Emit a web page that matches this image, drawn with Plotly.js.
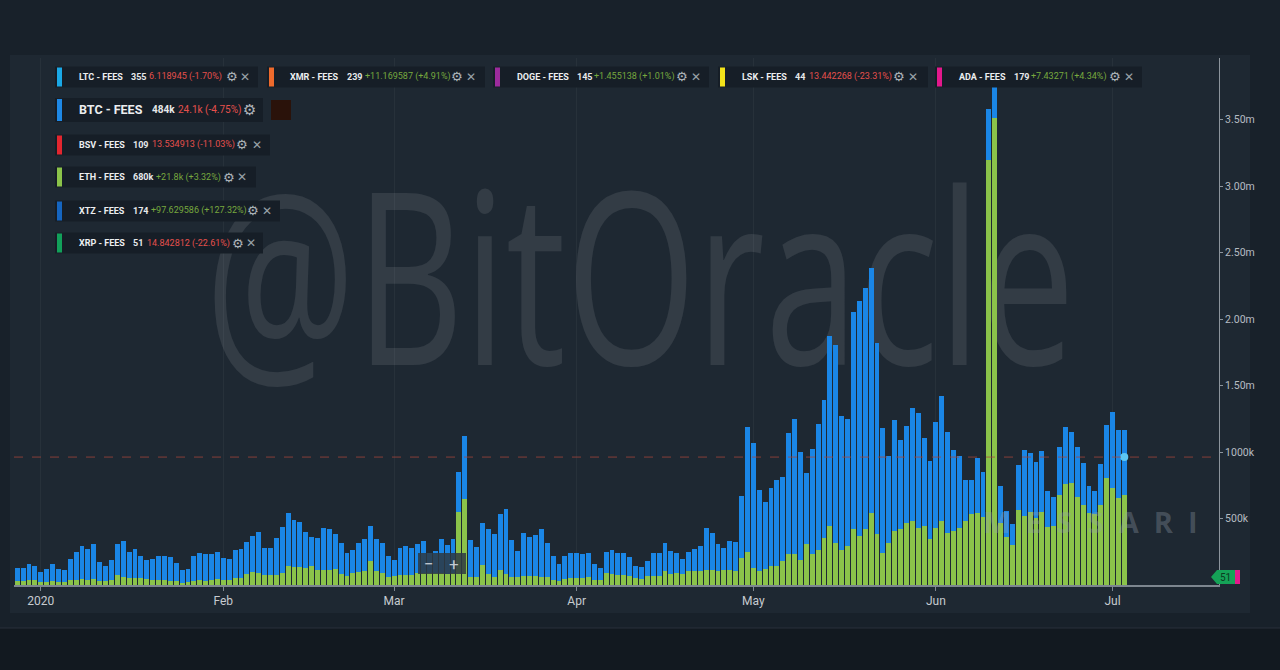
<!DOCTYPE html>
<html>
<head>
<meta charset="utf-8">
<script src="https://cdn.plot.ly/plotly-3.0.1.min.js"></script>
<style>
  html, body { margin: 0; padding: 0; background: #18212a; }
  #chart { width: 1280px; height: 670px; }
</style>
</head>
<body>
<div id="chart"></div>
<script>
// ---------------- DATA (daily fees, thousands of USD) ----------------
const startDate = '2019-12-28';

const ethFees = [
  30,30,38,38,25,25,30,25,25,35,
  38,45,40,45,30,30,38,75,63,50,
  55,55,45,38,35,38,30,30,18,25,
  30,35,30,40,45,38,38,55,55,80,
  95,93,75,75,75,88,140,133,135,125,
  143,113,113,113,120,83,70,88,95,108,
  180,108,93,63,68,75,75,75,88,88,
  88,88,88,83,93,546,644,63,58,150,
  83,63,113,83,63,58,68,68,68,63,
  58,38,33,43,50,55,55,58,38,38,
  93,83,75,73,70,50,45,68,70,68,
  108,83,93,83,105,108,108,113,113,105,
  113,113,108,200,246,125,108,118,143,143,
  180,233,231,188,306,231,263,356,444,318,
  263,293,418,368,418,544,383,243,313,406,
  418,469,481,426,444,346,431,484,388,408,
  426,481,531,544,514,3195,3513,466,363,301,
  564,521,546,506,551,434,444,677,757,764,
  664,601,539,531,601,802,727,658,680
];

const btcFees = [
  95,95,117,107,70,93,125,93,85,160,
  212,248,233,261,145,115,150,233,268,200,
  218,161,143,160,183,180,180,138,92,93,
  188,203,201,193,205,168,160,206,218,241,
  276,308,206,206,276,346,401,353,341,276,
  220,243,318,308,263,235,168,175,223,238,
  264,238,220,155,120,206,221,206,218,243,
  150,170,258,218,253,301,479,275,230,314,
  335,320,421,488,275,200,325,295,308,358,
  255,180,125,175,188,183,178,180,117,92,
  158,180,163,170,143,93,93,112,168,170,
  205,175,145,112,146,163,185,313,275,203,
  168,220,213,469,944,945,606,509,589,646,
  634,907,1014,809,539,791,947,1035,1428,1486,
  1008,952,1637,1767,1812,1842,1434,940,659,834,
  672,726,847,870,659,589,792,937,765,607,
  544,308,258,408,333,381,233,282,196,156,
  338,494,444,421,456,275,220,363,433,389,
  376,314,205,178,306,401,576,508,484
];

const refLevel = 962;          // dashed reference level (thousands)
const xrpLast = '51';

const monthTicks = ['2020-01-01','2020-02-01','2020-03-01','2020-04-01','2020-05-01','2020-06-01','2020-07-01'];
const monthLabels = ['2020','Feb','Mar','Apr','May','Jun','Jul'];
const yTickVals = [500,1000,1500,2000,2500,3000,3500];
const yTickText = ['500k','1000k','1.50m','2.00m','2.50m','3.00m','3.50m'];

const chipNames  = ['LTC - FEES','XMR - FEES','DOGE - FEES','LSK - FEES','ADA - FEES','BTC - FEES','BSV - FEES','ETH - FEES','XTZ - FEES','XRP - FEES'];
const chipLast   = ['355','239','145','44','179','484k','109','680k','174','51'];
const chipChange = ['6.118945 (-1.70%)','+11.169587 (+4.91%)','+1.455138 (+1.01%)','13.442268 (-23.31%)','+7.43271 (+4.34%)','24.1k (-4.75%)','13.534913 (-11.03%)','+21.8k (+3.32%)','+97.629586 (+127.32%)','14.842812 (-22.61%)'];
const chipUp     = [false,true,true,false,true,false,false,true,true,false];

// ---------------- STYLE / LAYOUT ----------------
const chipColors = ['#1aa8e6','#ee6a2c','#9c2b9c','#f2e21a','#e3188c','#1e88e5','#e3262f','#8bc34a','#1565c0','#12a05a'];
const chipPos = [
  {x0:55, x1:258, y:77, name:78, val:130, chg:148, gear:232, close:245},
  {x0:267,x1:485, y:77, name:289,val:346, chg:364, gear:457, close:471},
  {x0:493,x1:709, y:77, name:516,val:576, chg:593, gear:682, close:696},
  {x0:718,x1:928, y:77, name:741,val:794, chg:808, gear:899, close:913},
  {x0:935,x1:1142,y:77, name:958,val:1013,chg:1030,gear:1115,close:1129},
  {x0:55, x1:263, y:110,name:78, val:151, chg:177, gear:249, close:null, big:true},
  {x0:55, x1:270, y:145,name:78, val:132, chg:151, gear:242, close:257},
  {x0:55, x1:256, y:177,name:78, val:132, chg:155, gear:229, close:242},
  {x0:55, x1:280, y:211,name:78, val:132, chg:150, gear:253, close:267},
  {x0:55, x1:263, y:243,name:78, val:132, chg:146, gear:238, close:251}
];

const W = 1280, H = 670;
const PL = 14, PR = 1219, PT = 58, PB = 585;
const ax = p => (p - PL) / (PR - PL);
const ay = p => (PB - p) / (PB - PT);

const dates = [];
{
  const d0 = new Date(startDate + 'T00:00:00Z');
  for (let i = 0; i < ethFees.length; i++) {
    const d = new Date(d0.getTime() + i * 86400000);
    dates.push(d.toISOString().slice(0, 10));
  }
}
const K = 1000;

const traces = [
  { type:'bar', name:'ETH - FEES', x:dates, y:ethFees.map(v => v*K),
    marker:{color:'#8bc34a', line:{width:0}}, hoverinfo:'x+y' },
  { type:'bar', name:'BTC - FEES', x:dates, y:btcFees.map(v => v*K),
    marker:{color:'#1a86e6', line:{width:0}}, hoverinfo:'x+y' },
  { type:'scatter', mode:'markers', x:[dates[dates.length-1]], y:[refLevel*K],
    marker:{color:'#5cc6f2', size:8}, hoverinfo:'skip' }
];

const FONT = 'Roboto, "Open Sans", sans-serif';
const shapes = [];
const annotations = [];

// panel backgrounds
shapes.push({type:'rect', xref:'paper', yref:'paper', x0:ax(10), x1:ax(1250), y0:ay(613), y1:ay(55),
  fillcolor:'#1e2832', line:{width:0}, layer:'below'});
shapes.push({type:'rect', xref:'paper', yref:'paper', x0:ax(0), x1:ax(1280), y0:ay(670), y1:ay(628),
  fillcolor:'#121920', line:{width:0}, layer:'below'});
shapes.push({type:'line', xref:'paper', yref:'paper', x0:ax(0), x1:ax(1280), y0:ay(628), y1:ay(628),
  line:{color:'#28313a', width:1}, layer:'below'});

// watermark
shapes.push({type:'rect', xref:'paper', yref:'paper', x0:ax(0), x1:ax(1280), y0:ay(420), y1:ay(140),
  fillcolor:'rgba(0,0,0,0)', line:{width:0}, layer:'below',
  label:{text:'@BitOracle', textposition:'middle center',
         font:{family:'"Open Sans", sans-serif', size:240, color:'rgba(255,255,255,0.095)'}}});

// dashed reference line
shapes.push({type:'line', xref:'paper', yref:'y', x0:0, x1:1, y0:refLevel*K, y1:refLevel*K,
  line:{color:'rgba(170,70,60,0.75)', width:1, dash:'dash'}, layer:'above'});

// legend chips
chipPos.forEach((c, i) => {
  const h = c.big ? 12 : 10.5;
  shapes.push({type:'rect', xref:'paper', yref:'paper', x0:ax(c.x0), x1:ax(c.x1), y0:ay(c.y+h), y1:ay(c.y-h),
    fillcolor:'#161e27', line:{width:0}, layer:'above'});
  shapes.push({type:'rect', xref:'paper', yref:'paper', x0:ax(c.x0+2), x1:ax(c.x0+7), y0:ay(c.y+h-1), y1:ay(c.y-h+1),
    fillcolor:chipColors[i], line:{width:0}, layer:'above'});
  const nameSize = c.big ? 12.5 : 9;
  const valSize = c.big ? 10 : 9;
  annotations.push({xref:'paper', yref:'paper', x:ax(c.name), y:ay(c.y), xanchor:'left', yanchor:'middle',
    text:'<b>' + chipNames[i] + '</b>', showarrow:false, borderpad:0,
    font:{family:FONT, size:nameSize, color:'#eceef0'}});
  annotations.push({xref:'paper', yref:'paper', x:ax(c.val), y:ay(c.y), xanchor:'left', yanchor:'middle',
    text:'<b>' + chipLast[i] + '</b>', showarrow:false, borderpad:0,
    font:{family:FONT, size:valSize, color:'#e6e8ea'}});
  annotations.push({xref:'paper', yref:'paper', x:ax(c.chg), y:ay(c.y), xanchor:'left', yanchor:'middle',
    text:chipChange[i], showarrow:false, borderpad:0,
    font:{family:FONT, size:valSize, color: chipUp[i] ? '#76a83e' : '#e5504c'}});
  annotations.push({xref:'paper', yref:'paper', x:ax(c.gear), y:ay(c.y), xanchor:'center', yanchor:'middle',
    text:'⚙', showarrow:false, borderpad:0,
    font:{family:'"DejaVu Sans", sans-serif', size:c.big ? 15 : 13, color:'#aeb4ba'}});
  if (c.close !== null) {
    annotations.push({xref:'paper', yref:'paper', x:ax(c.close), y:ay(c.y), xanchor:'center', yanchor:'middle',
      text:'✕', showarrow:false, borderpad:0,
      font:{family:'"DejaVu Sans", sans-serif', size:12, color:'#9aa2aa'}});
  }
});
// dark square next to BTC chip
shapes.push({type:'rect', xref:'paper', yref:'paper', x0:ax(271), x1:ax(291), y0:ay(120), y1:ay(100),
  fillcolor:'#2a120a', line:{width:0}, layer:'above'});

// zoom control
shapes.push({type:'rect', xref:'paper', yref:'paper', x0:ax(418), x1:ax(466), y0:ay(574), y1:ay(553),
  fillcolor:'rgba(46,56,66,0.85)', line:{width:0}, layer:'above'});
annotations.push({xref:'paper', yref:'paper', x:ax(429), y:ay(563.5), xanchor:'center', yanchor:'middle',
  text:'−', showarrow:false, font:{family:FONT, size:17, color:'#c2c9d0'}});
annotations.push({xref:'paper', yref:'paper', x:ax(454), y:ay(563.5), xanchor:'center', yanchor:'middle',
  text:'+', showarrow:false, font:{family:FONT, size:17, color:'#c2c9d0'}});

// Messari watermark
annotations.push({xref:'paper', yref:'paper', x:ax(1200), y:ay(521), xanchor:'right', yanchor:'middle',
  text:'<b>M\u00a0\u00a0E\u00a0\u00a0S\u00a0\u00a0S\u00a0\u00a0A\u00a0\u00a0R\u00a0\u00a0I</b>', showarrow:false,
  font:{family:'"Open Sans", sans-serif', size:29, color:'rgba(150,160,172,0.32)'}});

// last value tag on the axis
shapes.push({type:'path', xref:'paper', yref:'paper',
  path:`M ${ax(1211)} ${ay(577)} L ${ax(1217)} ${ay(570)} L ${ax(1235)} ${ay(570)} L ${ax(1235)} ${ay(584)} L ${ax(1217)} ${ay(584)} Z`,
  fillcolor:'#15a257', line:{width:0}, layer:'above'});
shapes.push({type:'rect', xref:'paper', yref:'paper', x0:ax(1235), x1:ax(1240), y0:ay(584), y1:ay(570),
  fillcolor:'#e3188c', line:{width:0}, layer:'above'});
annotations.push({xref:'paper', yref:'paper', x:ax(1225), y:ay(577), xanchor:'center', yanchor:'middle',
  text:xrpLast, showarrow:false, font:{family:FONT, size:10, color:'#0b3b1f'}});

const layout = {
  width: W, height: H,
  margin: {l:PL, r:W-PR, t:PT, b:H-PB, pad:0},
  paper_bgcolor:'#18212a',
  plot_bgcolor:'#1e2832',
  barmode:'stack',
  bargap:0.17,
  showlegend:false,
  xaxis: {
    type:'date',
    range:['2019-12-27 11:00','2020-07-19 02:00'],
    tickvals: monthTicks, ticktext: monthLabels,
    showgrid:true, gridcolor:'rgba(255,255,255,0.045)', gridwidth:1,
    showline:true, linecolor:'#7d868f', linewidth:1.5,
    ticks:'outside', ticklen:4, tickcolor:'#7d868f',
    tickfont:{family:FONT, size:12, color:'#c6cbd0'},
    zeroline:false, fixedrange:true
  },
  yaxis: {
    side:'right',
    range:[0, 3963*K],
    tickvals: yTickVals.map(v => v*K), ticktext: yTickText,
    showgrid:false, zeroline:false,
    showline:true, linecolor:'#8c949c', linewidth:1,
    ticks:'outside', ticklen:3, tickcolor:'#8c949c',
    tickfont:{family:FONT, size:10.5, color:'#b6bcc2'},
    fixedrange:true
  },
  shapes: shapes,
  annotations: annotations
};

Plotly.newPlot('chart', traces, layout, {displayModeBar:false, staticPlot:true}).then(() => {
  document.querySelectorAll('#chart text').forEach(t => {
    if (t.textContent === '@BitOracle') {
      t.setAttribute('textLength', '870');
      t.setAttribute('lengthAdjust', 'spacingAndGlyphs');
      const y = parseFloat(t.getAttribute('y') || '0');
      t.setAttribute('y', String(y + 8));
    }
  });
});
</script>
</body>
</html>
